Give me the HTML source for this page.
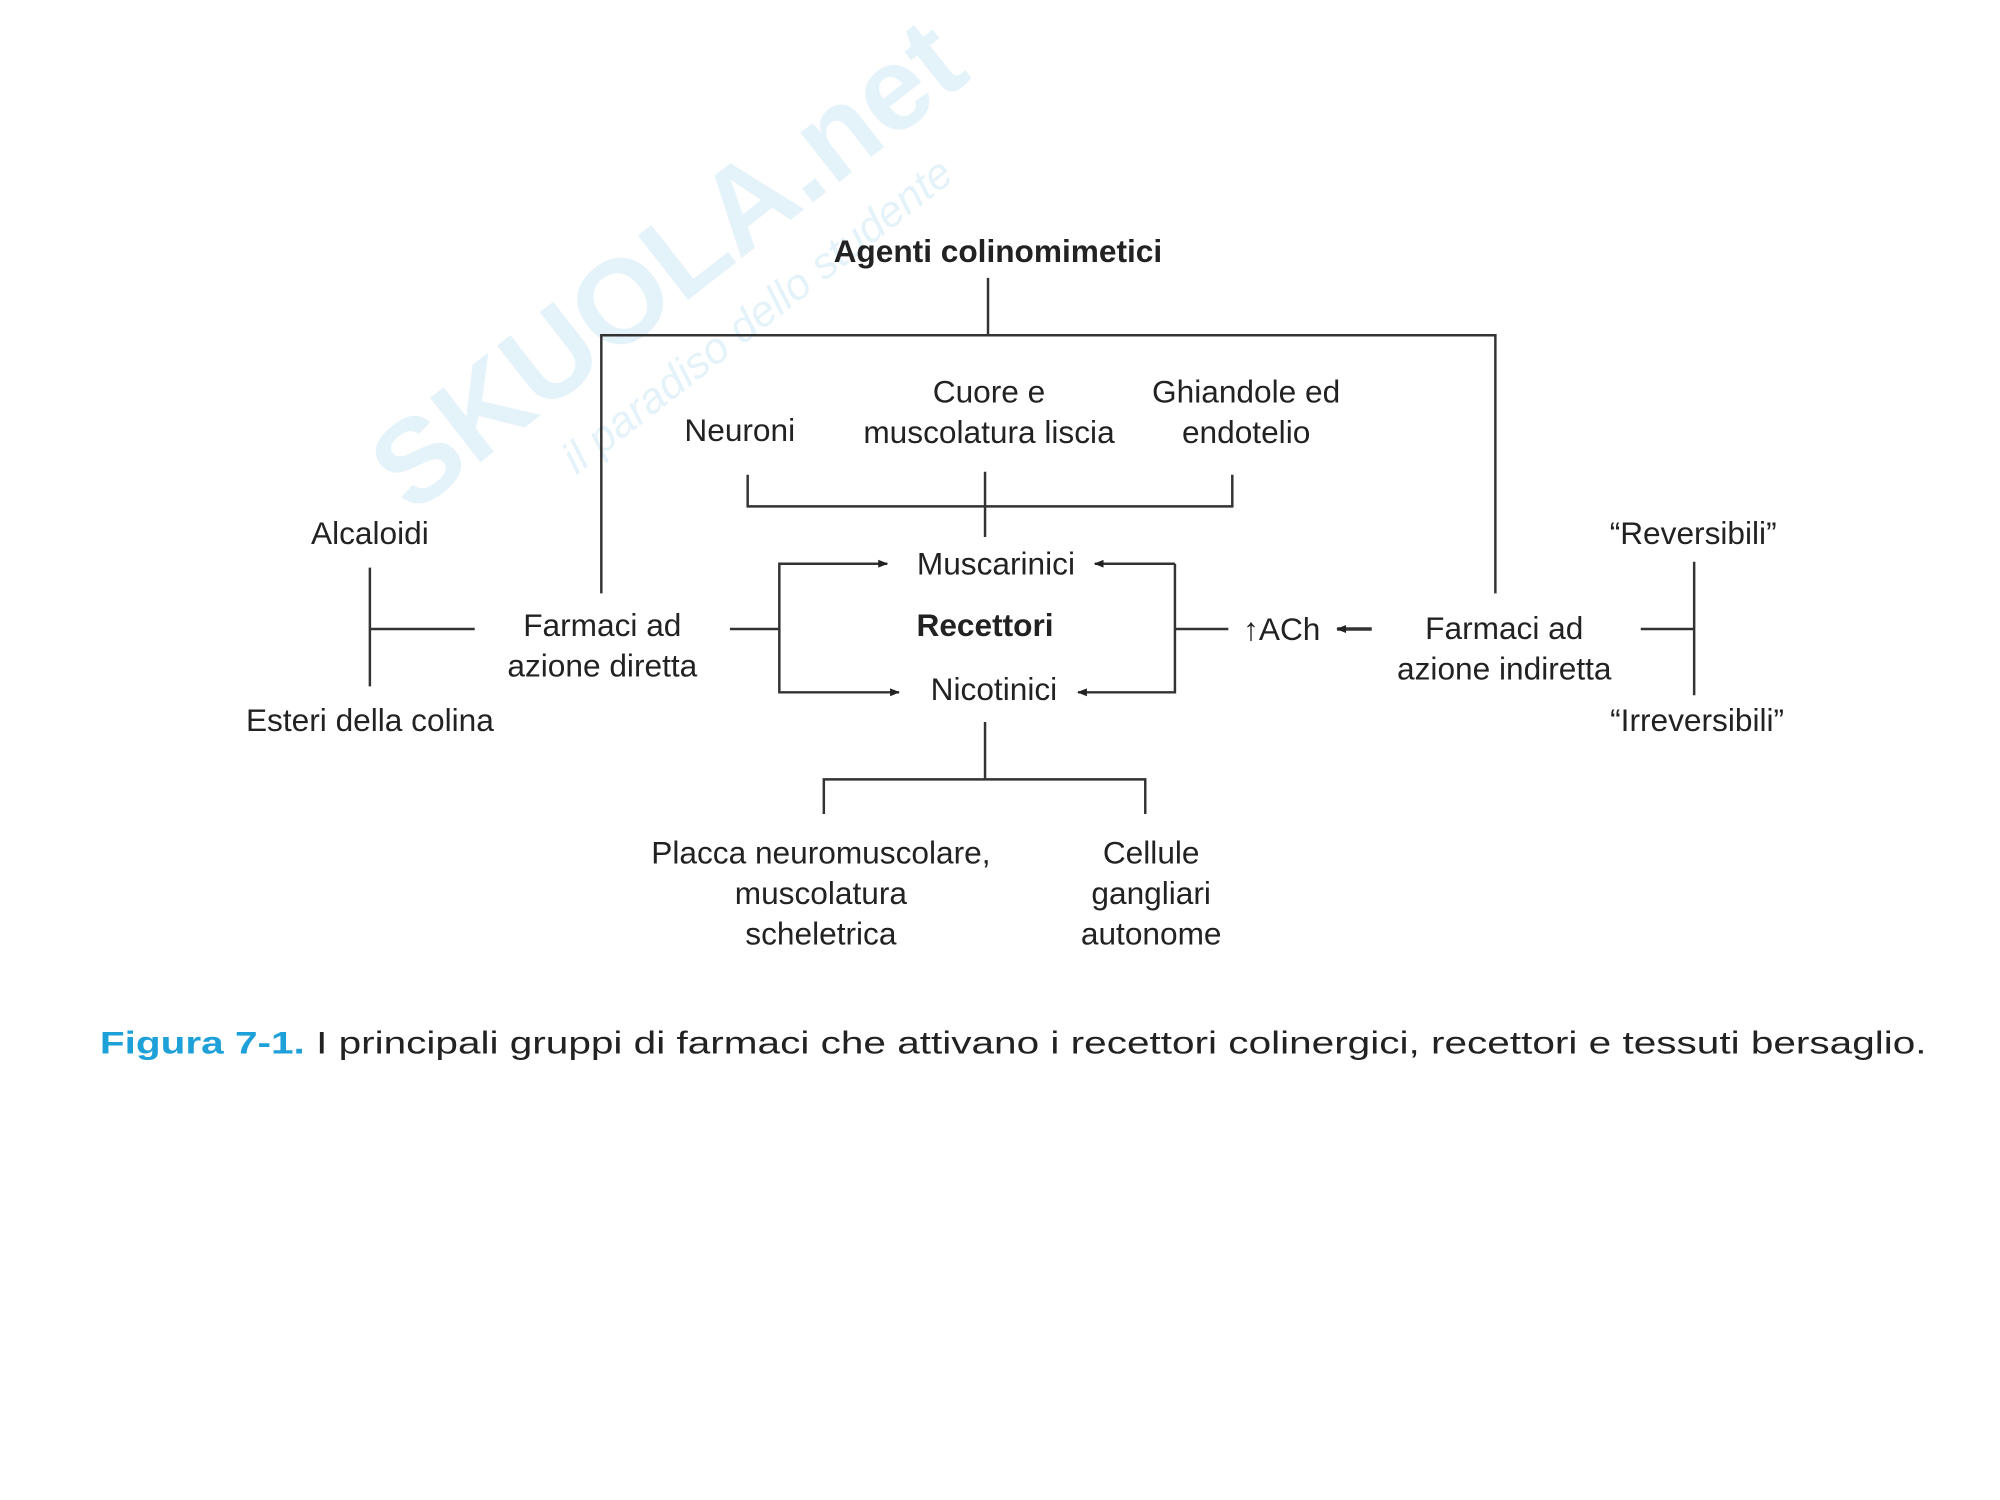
<!DOCTYPE html>
<html><head><meta charset="utf-8"><style>
html,body{margin:0;padding:0;background:#fff}
svg{display:block}
text{font-family:"Liberation Sans",Arial,sans-serif;fill:#222;font-size:32px}
</style></head><body>
<svg width="2000" height="1500" viewBox="0 0 2000 1500" xmlns="http://www.w3.org/2000/svg">
<defs><marker id="a" markerWidth="10" markerHeight="10" refX="9" refY="5" orient="auto" markerUnits="userSpaceOnUse"><path d="M0,1 L10,5 L0,9 z" fill="#222"/></marker></defs>
<g transform="scale(0.989)">
<g transform="translate(700,300) rotate(-38)" opacity="0.13">
<text x="0" y="0" text-anchor="middle" style="font-size:120px;font-weight:bold;fill:#3aa0d8">SKUOLA.net</text>
<text x="40" y="70" text-anchor="middle" style="font-size:44px;font-style:italic;fill:#3aa0d8">il paradiso dello studente</text>
</g>
<g stroke="#333" stroke-width="2.5" fill="none">
<path d="M999,281 V339 M608,600 V339 H1512 V600"/>
<path d="M756,480 V512 H1246 V480 M996,477 V543"/>
<path d="M738,636 H788 M897,570 H788 V700 H909" marker-end="url(#a)"/>
<path d="M788,570 H897" marker-end="url(#a)"/>
<path d="M1242,636 H1188 M1188,570 H1107" marker-end="url(#a)"/>
<path d="M1188,570 V700 H1090" marker-end="url(#a)"/>
<path d="M1387,636 H1352" marker-end="url(#a)" stroke-width="3.5"/>
<path d="M1659,636 H1713 M1713,568 V703"/>
<path d="M374,574 V694 M374,636 H480"/>
<path d="M996,730 V788 M833,823 V788 H1158 V823"/>
</g>
<text x="1009" y="265" text-anchor="middle" font-weight="bold">Agenti colinomimetici</text>
<text x="748" y="446" text-anchor="middle">Neuroni</text>
<text x="1000" y="407" text-anchor="middle">Cuore e</text>
<text x="1000" y="448" text-anchor="middle">muscolatura liscia</text>
<text x="1260" y="407" text-anchor="middle">Ghiandole ed</text>
<text x="1260" y="448" text-anchor="middle">endotelio</text>
<text x="1007" y="581" text-anchor="middle">Muscarinici</text>
<text x="996" y="643" text-anchor="middle" font-weight="bold">Recettori</text>
<text x="1005" y="708" text-anchor="middle">Nicotinici</text>
<text x="1296" y="647" text-anchor="middle">↑ACh</text>
<text x="374" y="550" text-anchor="middle">Alcaloidi</text>
<text x="374" y="739" text-anchor="middle">Esteri della colina</text>
<text x="609" y="643" text-anchor="middle">Farmaci ad</text>
<text x="609" y="684" text-anchor="middle">azione diretta</text>
<text x="1521" y="646" text-anchor="middle">Farmaci ad</text>
<text x="1521" y="687" text-anchor="middle">azione indiretta</text>
<text x="1712" y="550" text-anchor="middle">“Reversibili”</text>
<text x="1716" y="739" text-anchor="middle">“Irreversibili”</text>
<text x="830" y="873" text-anchor="middle">Placca neuromuscolare,</text>
<text x="830" y="914" text-anchor="middle">muscolatura</text>
<text x="830" y="955" text-anchor="middle">scheletrica</text>
<text x="1164" y="873" text-anchor="middle">Cellule</text>
<text x="1164" y="914" text-anchor="middle">gangliari</text>
<text x="1164" y="955" text-anchor="middle">autonome</text>
<text x="101" y="1065" textLength="1847" lengthAdjust="spacingAndGlyphs"><tspan style="fill:#1ea0d8;font-weight:bold">Figura 7-1.</tspan> I principali gruppi di farmaci che attivano i recettori colinergici, recettori e tessuti bersaglio.</text>
</g>
</svg>
</body></html>
